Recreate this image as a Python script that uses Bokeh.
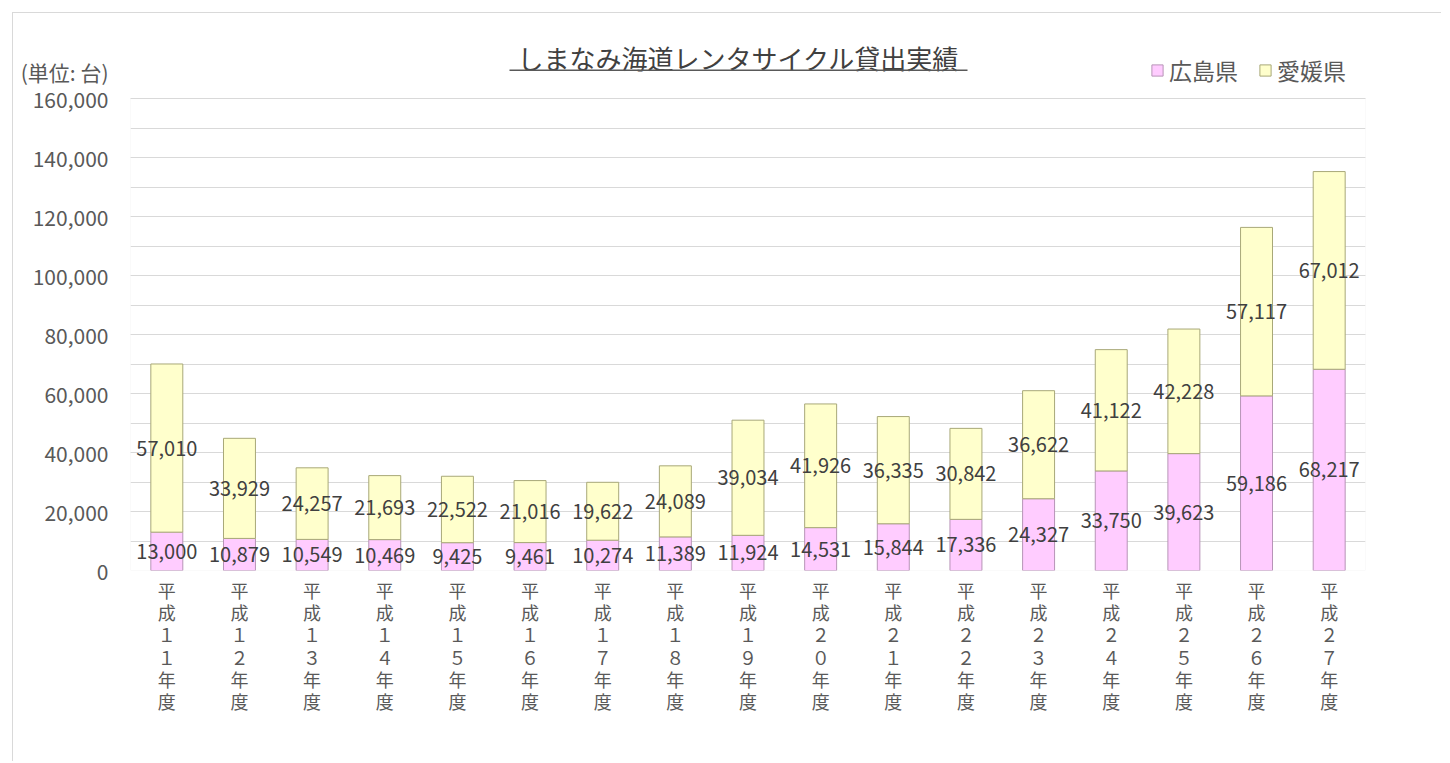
from bokeh.plotting import figure
from bokeh.models import (ColumnDataSource, FixedTicker, Legend, LegendItem, Label,
                          BoxAnnotation, NumeralTickFormatter, Range1d)
from bokeh.core.properties import value
from bokeh.embed import file_html
from bokeh.resources import INLINE

years = ["１１", "１２", "１３", "１４", "１５", "１６", "１７", "１８", "１９", "２０",
         "２１", "２２", "２３", "２４", "２５", "２６", "２７"]
hiroshima = [13000, 10879, 10549, 10469, 9425, 9461, 10274, 11389, 11924, 14531,
             15844, 17336, 24327, 33750, 39623, 59186, 68217]
ehime = [57010, 33929, 24257, 21693, 22522, 21016, 19622, 24089, 39034, 41926,
         36335, 30842, 36622, 41122, 42228, 57117, 67012]
y_ticks = list(range(0, 160001, 20000))
y_minor = list(range(0, 160001, 10000))
title_text = "しまなみ海道レンタサイクル貸出実績"
unit_text = "(単位: 台)"
series_names = ["広島県", "愛媛県"]

FONT = "Noto Sans CJK JP"
TXT = "#595959"
GRID = "#D9D9D9"

# ---- layout (page pixels) ----
OFF = 13                         # chart border at 12px + 1px line
W, H = 1442 - OFF, 762 - OFF
FR_L, FR_R = 130 - OFF, 1365 - OFF
FR_TOP, PA_TOP, FR_BOT = 14 - OFF, 98 - OFF, 570 - OFF
Y_MAX = 160000
y_end = Y_MAX * (FR_BOT - FR_TOP) / (FR_BOT - PA_TOP)
n = len(years)


def py(pix):   # page pixel row -> data y
    return (FR_BOT - (pix - OFF)) * Y_MAX / (FR_BOT - PA_TOP)


def px(pix):   # page pixel column -> data x
    return -0.5 + ((pix - OFF) - FR_L) * n / (FR_R - FR_L)


xs = list(range(n))
labels = ["平\n成\n" + y[0] + "\n" + y[1] + "\n年\n度" for y in years]
totals = [h + e for h, e in zip(hiroshima, ehime)]
src = ColumnDataSource(dict(
    x=xs, h=hiroshima, e=ehime, tot=totals,
    hmid=[h / 2 for h in hiroshima],
    emid=[h + e / 2 for h, e in zip(hiroshima, ehime)],
    htxt=["{:,}".format(v) for v in hiroshima],
    etxt=["{:,}".format(v) for v in ehime],
))

p = figure(width=W, height=H, output_backend="svg", toolbar_location=None,
           x_range=Range1d(-0.5, n - 0.5), y_range=Range1d(0, y_end),
           min_border_left=FR_L, min_border_right=W - FR_R, min_border_top=FR_TOP,
           min_border_bottom=H - FR_BOT)
p.styles = {"border-top": "1px solid #D9D9D9", "border-left": "1px solid #D9D9D9",
            "margin": "12px 0 0 12px"}
p.background_fill_color = "white"
p.border_fill_color = "white"
p.outline_line_color = None

# grid (own ticker, only inside the plot area)
p.xgrid.grid_line_color = None
p.ygrid.ticker = FixedTicker(ticks=y_ticks, minor_ticks=y_minor)
p.ygrid.grid_line_color = GRID
p.ygrid.minor_grid_line_color = GRID

# plot-area border
p.add_layout(BoxAnnotation(left=-0.5, right=n - 0.5, bottom=0, top=Y_MAX,
                           fill_alpha=0, line_color=GRID, line_width=1, level="underlay"))

rh = p.vbar(x="x", bottom=0, top="h", width=0.44, source=src,
            fill_color="#FFCCFF", line_color="#B794B7", line_width=1)
re = p.vbar(x="x", bottom="h", top="tot", width=0.44, source=src,
            fill_color="#FFFFCC", line_color="#A8A878", line_width=1)

for col, ycol in (("htxt", "hmid"), ("etxt", "emid")):
    p.text(x="x", y=ycol, text=col, source=src, text_align="center",
           text_baseline="middle", text_font=value(FONT), text_font_size="20px",
           text_color="#404040")

# y axis (unit caption as an extra tick label above 160,000)
unit_y = round(py(72))
p.yaxis.ticker = FixedTicker(ticks=y_ticks + [unit_y])
p.yaxis.major_label_overrides = {unit_y: unit_text}
p.yaxis.formatter = NumeralTickFormatter(format="0,0")
p.yaxis.axis_line_color = None
p.yaxis.major_tick_line_color = None
p.yaxis.minor_tick_line_color = None
p.yaxis.major_label_text_font = FONT
p.yaxis.major_label_text_font_size = "21px"
p.yaxis.major_label_text_color = TXT
p.yaxis.major_label_standoff = 16

# x axis with vertical (stacked) labels
p.xaxis.ticker = FixedTicker(ticks=xs)
p.xaxis.major_label_overrides = {i: lab for i, lab in zip(xs, labels)}
p.xaxis.axis_line_color = None
p.xaxis.major_tick_line_color = None
p.xaxis.minor_tick_line_color = None
p.xaxis.major_label_text_font = FONT
p.xaxis.major_label_text_font_size = "18px"
p.xaxis.major_label_text_line_height = 0.86
p.xaxis.major_label_text_color = TXT
p.xaxis.major_label_standoff = 0

# title with underline
p.add_layout(Label(x=px(738), y=py(57), text=title_text, text_align="center",
                   text_baseline="middle", text_font=FONT, text_font_size="26px",
                   text_color="#404040"))
p.add_layout(BoxAnnotation(left=px(509), right=px(967), top=py(69), bottom=py(70.5),
                           fill_color="#595959", fill_alpha=1, line_color=None))

legend = Legend(items=[LegendItem(label=series_names[0], renderers=[rh]),
                       LegendItem(label=series_names[1], renderers=[re])],
                orientation="horizontal", location=(1150 - OFF - FR_L, FR_BOT - (87 - OFF)),
                label_text_font=FONT, label_text_font_size="23px",
                label_text_color=TXT, glyph_width=14, glyph_height=14,
                spacing=20, padding=0, margin=0, label_standoff=5,
                background_fill_alpha=0, border_line_color=None)
p.add_layout(legend, "center")

open("out.html", "w").write(file_html(p, INLINE))
